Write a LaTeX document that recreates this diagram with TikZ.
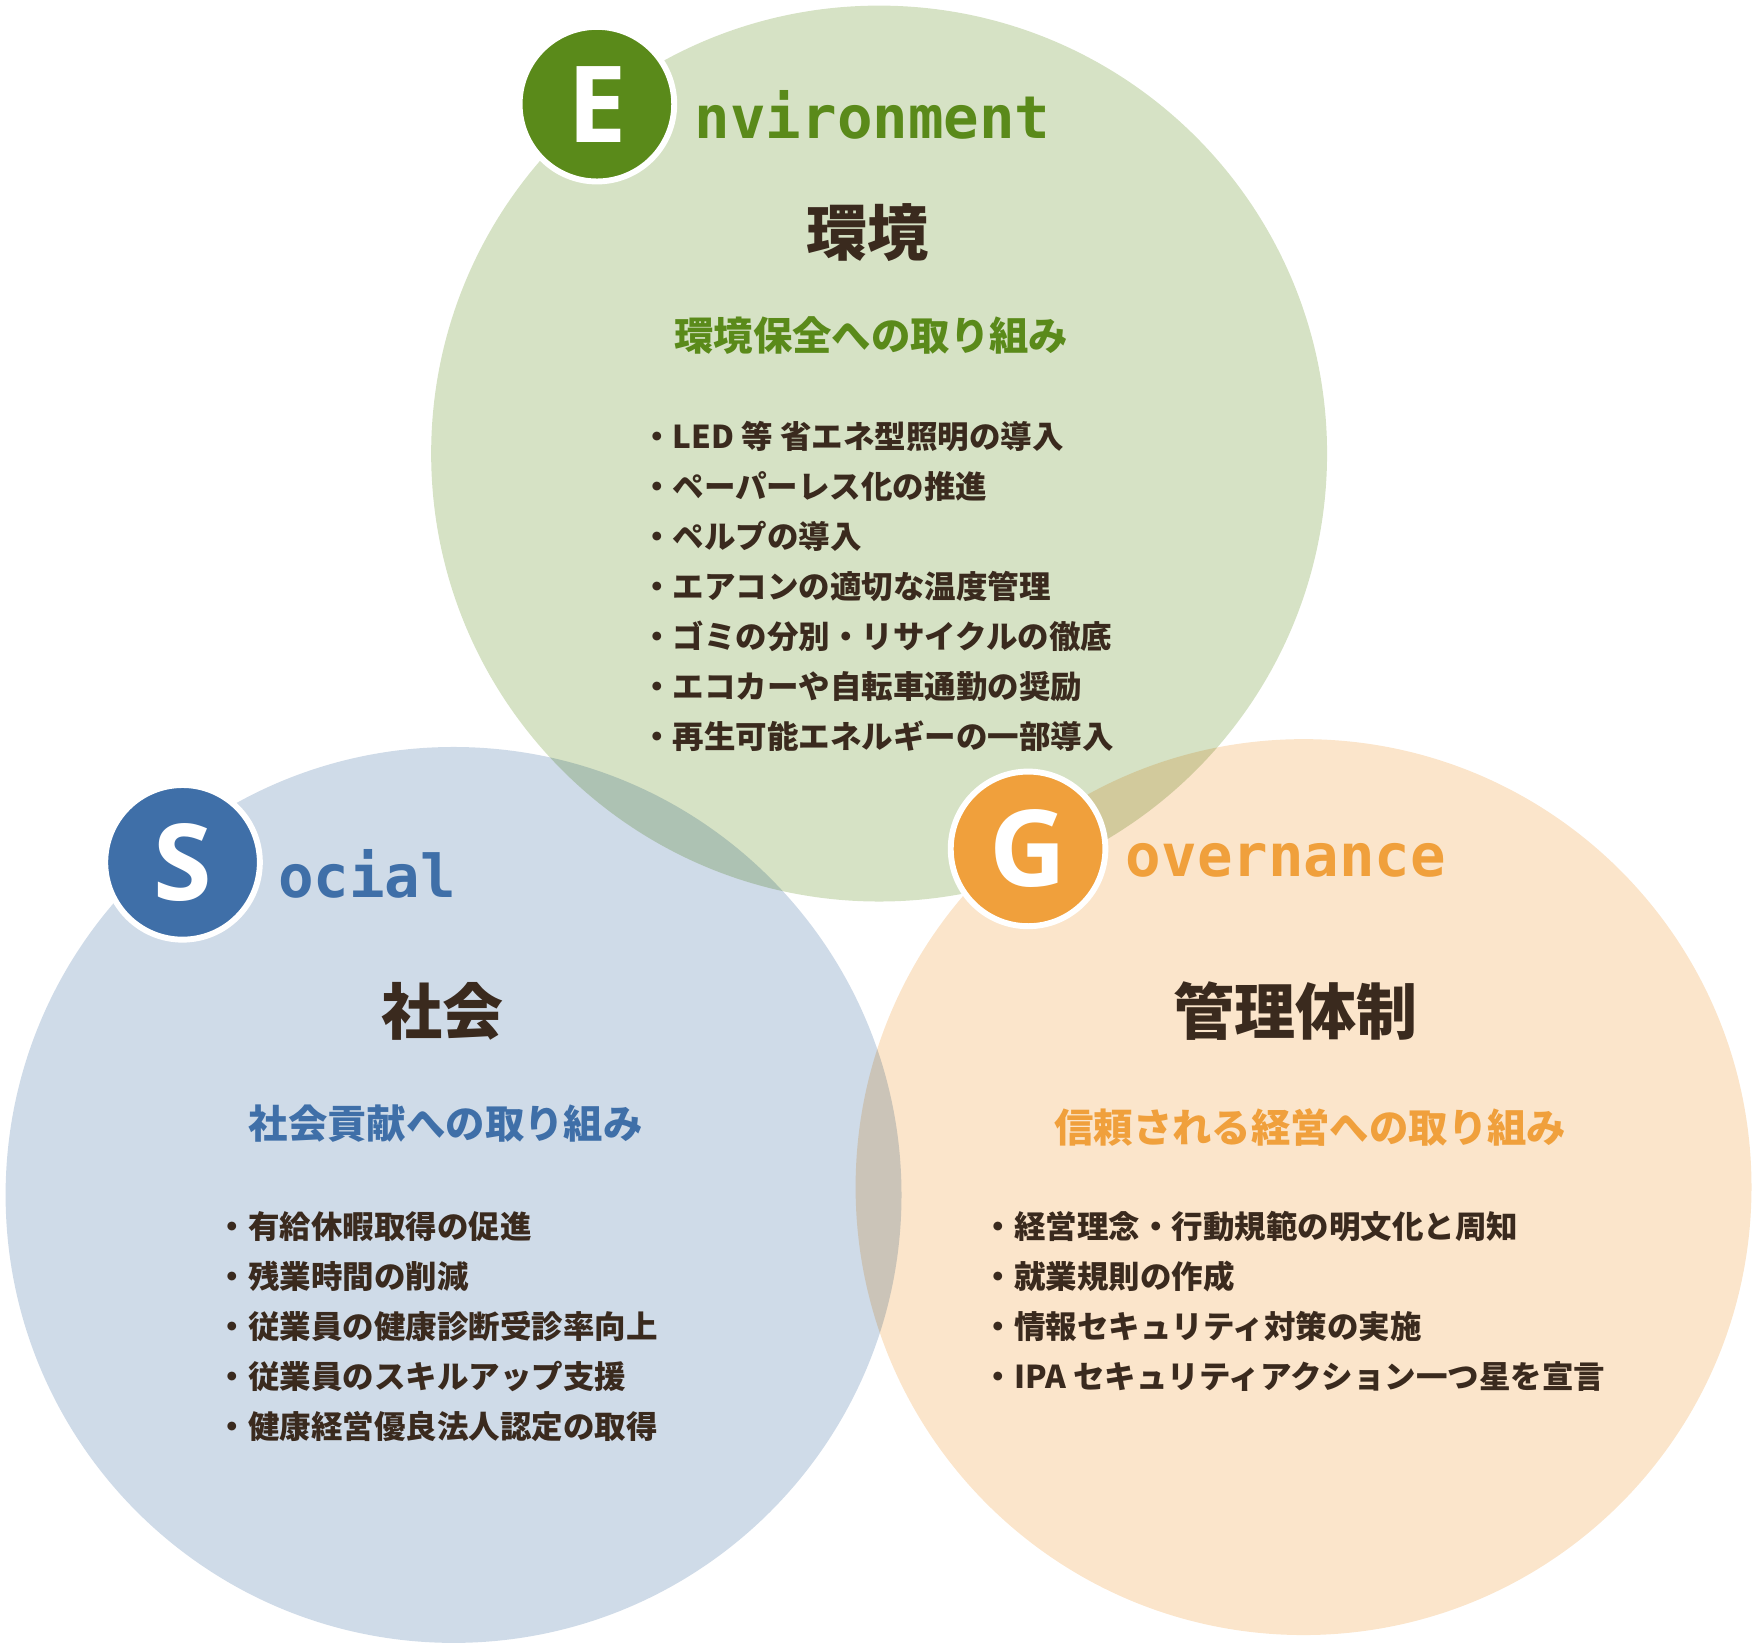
\documentclass[tikz,border=0pt]{standalone}
\usepackage{fontspec}
\newfontfamily\jp{Noto Sans CJK JP}
\newfontfamily\monof{DejaVu Sans Mono}
\newfontfamily\badgef{Open Sans}
\definecolor{egreen}{HTML}{5A8A1A}
\definecolor{sblue}{HTML}{3F6FA8}
\definecolor{gorange}{HTML}{F0A03C}
\definecolor{efill}{HTML}{D6E2C5}
\definecolor{sfill}{HTML}{CFDBE8}
\definecolor{gfill}{HTML}{FBE5CB}
\definecolor{ink}{HTML}{3A2A1E}
\tikzset{
  badge/.style={circle, draw=white, line width=1.5pt, minimum size=1.38cm, inner sep=0pt,
    text=white, font=\badgef\bfseries\fontsize{27}{27}\selectfont},
  wordlbl/.style={anchor=west, font=\monof\bfseries\fontsize{15}{15}\selectfont},
  titletxt/.style={text=ink, font=\jp\bfseries\fontsize{15.5}{16}\selectfont},
  subtxt/.style={font=\jp\bfseries\fontsize{10}{11}\selectfont},
  items/.style={anchor=north west, text=ink, align=left,
    font=\jp\bfseries\fontsize{8}{12.7}\selectfont}
}
\begin{document}
\begin{tikzpicture}[x=0.01cm, y=-0.01cm]
	\useasboundingbox (0,0) rectangle (1568,1472);
	% circles
	\fill[efill, blend mode=multiply] (785,405) circle (400);
	\fill[sfill, blend mode=multiply] (405,1067) circle (400);
	\fill[gfill, blend mode=multiply] (1164,1060) circle (400);
	
	% environment
	\node[badge, fill=egreen] (eb) at (533,93) {E};
	\node[wordlbl, text=egreen] (ew) at (608,103) {nvironment};
	\node[titletxt] (et) at (775,208) {環境};
	\node[subtxt, text=egreen] (es) at (778,300) {環境保全への取り組み};
	\node[items] (ei) at (560,364) {・LED 等 省エネ型照明の導入\\・ペーパーレス化の推進\\・ペルプの導入\\・エアコンの適切な温度管理\\・ゴミの分別・リサイクルの徹底\\・エコカーや自転車通勤の奨励\\・再生可能エネルギーの一部導入};
	
	% social
	\node[badge, fill=sblue] (sb) at (163,770) {S};
	\node[wordlbl, text=sblue] (sw) at (236,780) {ocial};
	\node[titletxt] (st) at (395,903) {社会};
	\node[subtxt, text=sblue] (ss) at (398,1003) {社会貢献への取り組み};
	\node[items] (si) at (181,1069) {・有給休暇取得の促進\\・残業時間の削減\\・従業員の健康診断受診率向上\\・従業員のスキルアップ支援\\・健康経営優良法人認定の取得};
	
	% governance
	\node[badge, fill=gorange] (gb) at (918,758) {G};
	\node[wordlbl, text=gorange] (gw) at (993,768) {overnance};
	\node[titletxt] (gt) at (1157,903) {管理体制};
	\node[subtxt, text=gorange] (gs) at (1170,1007) {信頼される経営への取り組み};
	\node[items] (gi) at (865,1069) {・経営理念・行動規範の明文化と周知\\・就業規則の作成\\・情報セキュリティ対策の実施\\・IPA セキュリティアクション一つ星を宣言};
\end{tikzpicture}
\end{document}
